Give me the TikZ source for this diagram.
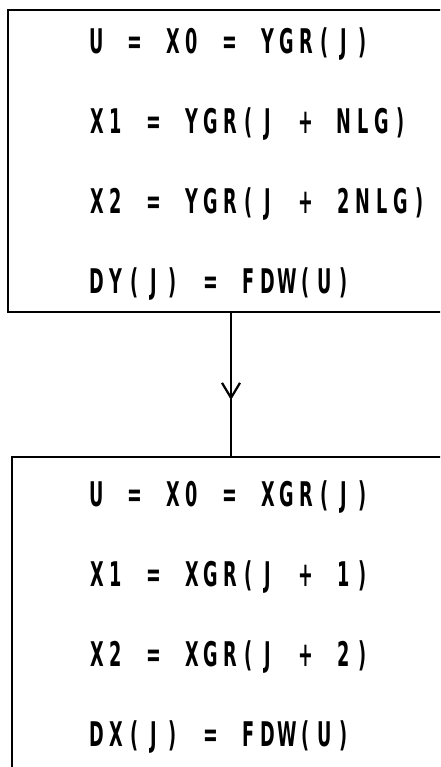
\documentclass[tikz,border=0pt]{standalone}
\usepackage{fontspec}
\usepackage{graphicx}
\usetikzlibrary{arrows.meta,decorations.markings}
\newfontfamily\plotfont{DejaVu Sans}
\makeatletter
\newcommand\plotline[1]{\@tfor\plottok:=#1\do{\makebox[19pt][c]{\scalebox{0.52}[1]{\plottok}}}}
\makeatother
\begin{document}
\begin{tikzpicture}[x=1pt,y=-1pt,
  box/.style={draw, line width=2.8pt, rectangle, inner sep=0pt, outer sep=0pt, anchor=north west},
  txt/.style={font=\plotfont\bfseries\fontsize{34}{34}\selectfont, inner sep=0pt, outer sep=0pt, anchor=base west},
  conn/.style={line width=2.2pt, postaction={decorate},
    decoration={markings, mark=at position 0.607 with {\arrow{Straight Barb[length=15pt,width=18pt,line width=2.2pt]}}}}]
\useasboundingbox (0,0) rectangle (440,767);
\fill[white] (0,0) rectangle (440,767);
\clip (0,0) rectangle (440,767);
% boxes
\node[box, minimum width=472pt, minimum height=302pt] (topbox) at (8,10) {};
\node[box, minimum width=470pt, minimum height=340pt] (botbox) at (12,457) {};
% text lines
\node[txt] (t1) at (87.5,54)  {\plotline{U~=~X0~=~YGR(J)}};
\node[txt] (t2) at (87.5,134) {\plotline{X1~=~YGR(J~+~NLG)}};
\node[txt] (t3) at (87.5,213) {\plotline{X2~=~YGR(J~+~2NLG)}};
\node[txt] (t4) at (87.5,293) {\plotline{DY(J)~=~FDW(U)}};
\node[txt] (b1) at (87.5,506) {\plotline{U~=~X0~=~XGR(J)}};
\node[txt] (b2) at (87.5,586) {\plotline{X1~=~XGR(J~+~1)}};
\node[txt] (b3) at (87.5,666) {\plotline{X2~=~XGR(J~+~2)}};
\node[txt] (b4) at (87.5,746) {\plotline{DX(J)~=~FDW(U)}};
% connector
\coordinate (ax) at (231,0);
\draw[conn] (topbox.south -| ax) -- (botbox.north -| ax);
\end{tikzpicture}
\end{document}
